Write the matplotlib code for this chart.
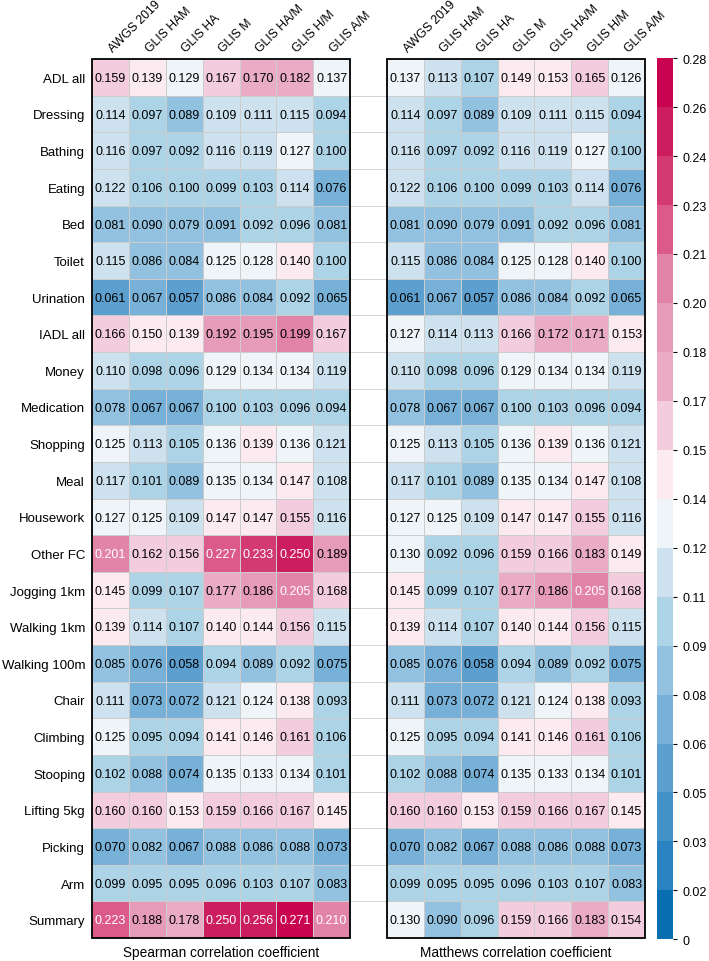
import numpy as np
import matplotlib
matplotlib.use('Agg')
import matplotlib.pyplot as plt
from matplotlib.colors import ListedColormap, BoundaryNorm
from matplotlib.patches import Rectangle
from matplotlib.cm import ScalarMappable

plt.rcParams['font.family'] = ['Liberation Sans', 'DejaVu Sans']

# --- Data ---
ROWS = ['ADL all', 'Dressing', 'Bathing', 'Eating', 'Bed', 'Toilet', 'Urination',
        'IADL all', 'Money', 'Medication', 'Shopping', 'Meal', 'Housework',
        'Other FC', 'Jogging 1km', 'Walking 1km', 'Walking 100m', 'Chair',
        'Climbing', 'Stooping', 'Lifting 5kg', 'Picking', 'Arm', 'Summary']
METHODS = ['AWGS 2019', 'GLIS HAM', 'GLIS HA', 'GLIS M', 'GLIS HA/M', 'GLIS H/M', 'GLIS A/M']

SPEARMAN = [
    [0.159, 0.139, 0.129, 0.167, 0.170, 0.182, 0.137],
    [0.114, 0.097, 0.089, 0.109, 0.111, 0.115, 0.094],
    [0.116, 0.097, 0.092, 0.116, 0.119, 0.127, 0.100],
    [0.122, 0.106, 0.100, 0.099, 0.103, 0.114, 0.076],
    [0.081, 0.090, 0.079, 0.091, 0.092, 0.096, 0.081],
    [0.115, 0.086, 0.084, 0.125, 0.128, 0.140, 0.100],
    [0.061, 0.067, 0.057, 0.086, 0.084, 0.092, 0.065],
    [0.166, 0.150, 0.139, 0.192, 0.195, 0.199, 0.167],
    [0.110, 0.098, 0.096, 0.129, 0.134, 0.134, 0.119],
    [0.078, 0.067, 0.067, 0.100, 0.103, 0.096, 0.094],
    [0.125, 0.113, 0.105, 0.136, 0.139, 0.136, 0.121],
    [0.117, 0.101, 0.089, 0.135, 0.134, 0.147, 0.108],
    [0.127, 0.125, 0.109, 0.147, 0.147, 0.155, 0.116],
    [0.201, 0.162, 0.156, 0.227, 0.233, 0.250, 0.189],
    [0.145, 0.099, 0.107, 0.177, 0.186, 0.205, 0.168],
    [0.139, 0.114, 0.107, 0.140, 0.144, 0.156, 0.115],
    [0.085, 0.076, 0.058, 0.094, 0.089, 0.092, 0.075],
    [0.111, 0.073, 0.072, 0.121, 0.124, 0.138, 0.093],
    [0.125, 0.095, 0.094, 0.141, 0.146, 0.161, 0.106],
    [0.102, 0.088, 0.074, 0.135, 0.133, 0.134, 0.101],
    [0.160, 0.160, 0.153, 0.159, 0.166, 0.167, 0.145],
    [0.070, 0.082, 0.067, 0.088, 0.086, 0.088, 0.073],
    [0.099, 0.095, 0.095, 0.096, 0.103, 0.107, 0.083],
    [0.223, 0.188, 0.178, 0.250, 0.256, 0.271, 0.210],
]

MATTHEWS = [
    [0.137, 0.113, 0.107, 0.149, 0.153, 0.165, 0.126],
    [0.114, 0.097, 0.089, 0.109, 0.111, 0.115, 0.094],
    [0.116, 0.097, 0.092, 0.116, 0.119, 0.127, 0.100],
    [0.122, 0.106, 0.100, 0.099, 0.103, 0.114, 0.076],
    [0.081, 0.090, 0.079, 0.091, 0.092, 0.096, 0.081],
    [0.115, 0.086, 0.084, 0.125, 0.128, 0.140, 0.100],
    [0.061, 0.067, 0.057, 0.086, 0.084, 0.092, 0.065],
    [0.127, 0.114, 0.113, 0.166, 0.172, 0.171, 0.153],
    [0.110, 0.098, 0.096, 0.129, 0.134, 0.134, 0.119],
    [0.078, 0.067, 0.067, 0.100, 0.103, 0.096, 0.094],
    [0.125, 0.113, 0.105, 0.136, 0.139, 0.136, 0.121],
    [0.117, 0.101, 0.089, 0.135, 0.134, 0.147, 0.108],
    [0.127, 0.125, 0.109, 0.147, 0.147, 0.155, 0.116],
    [0.130, 0.092, 0.096, 0.159, 0.166, 0.183, 0.149],
    [0.145, 0.099, 0.107, 0.177, 0.186, 0.205, 0.168],
    [0.139, 0.114, 0.107, 0.140, 0.144, 0.156, 0.115],
    [0.085, 0.076, 0.058, 0.094, 0.089, 0.092, 0.075],
    [0.111, 0.073, 0.072, 0.121, 0.124, 0.138, 0.093],
    [0.125, 0.095, 0.094, 0.141, 0.146, 0.161, 0.106],
    [0.102, 0.088, 0.074, 0.135, 0.133, 0.134, 0.101],
    [0.160, 0.160, 0.153, 0.159, 0.166, 0.167, 0.145],
    [0.070, 0.082, 0.067, 0.088, 0.086, 0.088, 0.073],
    [0.099, 0.095, 0.095, 0.096, 0.103, 0.107, 0.083],
    [0.130, 0.090, 0.096, 0.159, 0.166, 0.183, 0.154],
]

TABLE_TITLES = ['Spearman correlation coefficient', 'Matthews correlation coefficient']
CBAR_TICKLABELS = ['0', '0.02', '0.03', '0.05', '0.06', '0.08', '0.09', '0.11', '0.12', '0.14',
                   '0.15', '0.17', '0.18', '0.20', '0.21', '0.23', '0.24', '0.26', '0.28']
VMAX = 0.2755

# --- Style ---
BAND_COLORS = ['#0a6fb0', '#2a83c0', '#4292c8', '#5d9fcf', '#78b1d8', '#93c2e0',
               '#add3e7', '#cde1ee', '#eef4f8', '#fbebf1', '#f3cddd', '#eaabc5',
               '#e69bb8', '#e284a8', '#db5a8a', '#d43a72', '#cc1d5e', '#c8034f']
GRID_COLOR = '#cccccc'

levels = np.linspace(0, VMAX, len(BAND_COLORS) + 1)
cmap = ListedColormap(BAND_COLORS)
norm = BoundaryNorm(levels, cmap.N)

n_rows = len(ROWS)
n_cols = len(METHODS)

fig = plt.figure(figsize=(7.09, 9.62), dpi=100, facecolor='white')
ax = fig.add_axes([0.1298, 0.0239, 0.780, 0.9137])

for t, table in enumerate([SPEARMAN, MATTHEWS]):
    data = np.array(table)
    x0 = t * (n_cols + 1)
    ax.pcolormesh(np.arange(n_cols + 1) + x0, np.arange(n_rows + 1), data,
                  cmap=cmap, norm=norm, edgecolors=GRID_COLOR, linewidth=0.6)
    for i in range(n_rows):
        for j in range(n_cols):
            v = data[i, j]
            ax.text(x0 + j + 0.5, i + 0.52, f'{v:.3f}', ha='center', va='center',
                    fontsize=9, color='white' if v >= 0.2 else 'black')
    ax.add_patch(Rectangle((x0, 0), n_cols, n_rows, fill=False, ec='black',
                           lw=1.3, clip_on=False, zorder=5))
    # column headers, rotated 45 degrees
    for j, name in enumerate(METHODS):
        ax.text(x0 + j + 0.56, -0.2, name, rotation=45, ha='left', va='baseline',
                rotation_mode='anchor', fontsize=8.8)
    ax.text(x0 + n_cols / 2, n_rows + 0.2, TABLE_TITLES[t], ha='center', va='top',
            fontsize=9.8)

# grey row lines through the gap between the two tables
ax.hlines(np.arange(1, n_rows), n_cols, n_cols + 1, colors=GRID_COLOR, lw=0.6)

ax.set_xlim(0, 2 * n_cols + 1)
ax.set_ylim(n_rows, 0)
ax.set_xticks([])
ax.set_yticks(np.arange(n_rows) + 0.5)
ax.set_yticklabels(ROWS, fontsize=9.5)
ax.tick_params(axis='y', length=0, pad=5)
for s in ax.spines.values():
    s.set_visible(False)

# --- Colorbar ---
cax = fig.add_axes([0.9267, 0.0225, 0.0226, 0.916])
sm = ScalarMappable(norm=norm, cmap=cmap)
cb = fig.colorbar(sm, cax=cax, ticks=levels)
cb.ax.set_yticklabels(CBAR_TICKLABELS)
cb.outline.set_visible(False)
cb.ax.tick_params(length=3, width=0.8, labelsize=9, pad=4)

fig.savefig('out.png', dpi=100, facecolor='white')
